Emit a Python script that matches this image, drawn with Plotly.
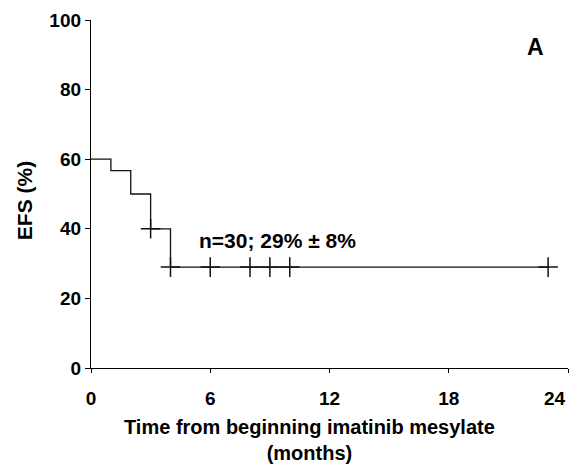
import plotly.graph_objects as go

# Step curve (months, EFS %)
step_x = [0, 1, 2, 3, 4, 23]
step_y = [60, 56.7, 50, 40, 29, 29]
# Censored observations
cens_x = [3, 4, 6, 8, 9, 10, 23]
cens_y = [40, 29, 29, 29, 29, 29, 29]
x_ticks = [0, 6, 12, 18, 24]
x_ticktext = ["0", "6", "12", "18", "24"]
y_ticks = [0, 20, 40, 60, 80, 100]

FONT = "Liberation Sans, Arial, sans-serif"
TICKFONT = dict(family=FONT, size=19, color="black", weight="bold")

fig = go.Figure()
fig.add_trace(go.Scatter(x=step_x, y=step_y, mode="lines", line_shape="hv",
                         line=dict(color="#111111", width=1.3), showlegend=False,
                         cliponaxis=False))
fig.add_trace(go.Scatter(x=cens_x, y=cens_y, mode="markers",
                         marker=dict(symbol="cross-thin", size=14,
                                     line=dict(color="#111111", width=1.5)),
                         showlegend=False, cliponaxis=False))

fig.add_annotation(x=9.36, y=36.5, text="n=30; 29% ± 8%", showarrow=False,
                   font=dict(family=FONT, size=21, color="black", weight="bold"))
fig.add_annotation(x=22.34, y=92.2, text="A", showarrow=False,
                   font=dict(family=FONT, size=23, color="black", weight="bold"))

# last x tick label sits flush against the right edge (right-aligned to its tick)
fig.add_annotation(x=x_ticks[-1], xref="x", yref="paper", y=-0.087,
                   xanchor="right", yanchor="middle", showarrow=False,
                   text=x_ticktext[-1], font=TICKFONT)

# axis titles
fig.add_annotation(xref="paper", yref="paper", x=0.459, y=-0.131,
                   xanchor="center", yanchor="top", showarrow=False,
                   text="Time from beginning imatinib mesylate<br>(months)",
                   font=dict(family=FONT, size=20, color="black", weight="bold"))
fig.add_annotation(xref="paper", yref="paper", x=-0.138, y=0.48,
                   xanchor="center", yanchor="middle", showarrow=False, textangle=-90,
                   text="EFS (%)",
                   font=dict(family=FONT, size=21, color="black", weight="bold"))

fig.update_layout(
    width=569, height=465,
    margin=dict(l=91, r=1, t=20, b=97),
    paper_bgcolor="white", plot_bgcolor="white",
    font=dict(family=FONT, color="black"),
    xaxis=dict(range=[0, 24], tickvals=x_ticks, ticktext=x_ticktext[:-1] + [""],
               showgrid=False, zeroline=False,
               showline=True, linecolor="black", linewidth=1.3, automargin=False,
               ticks="outside", ticklen=4, tickcolor="black",
               ticklabelstandoff=9, tickfont=TICKFONT),
    yaxis=dict(range=[0, 100], tickvals=y_ticks, showgrid=False, zeroline=False,
               showline=True, linecolor="black", linewidth=1.3, automargin=False,
               ticks="outside", ticklen=5, tickcolor="black",
               tickfont=TICKFONT),
)

fig.write_html("out.html", config={"displayModeBar": False},
               post_script="document.body.style.margin='0';document.body.style.overflow='hidden';")
